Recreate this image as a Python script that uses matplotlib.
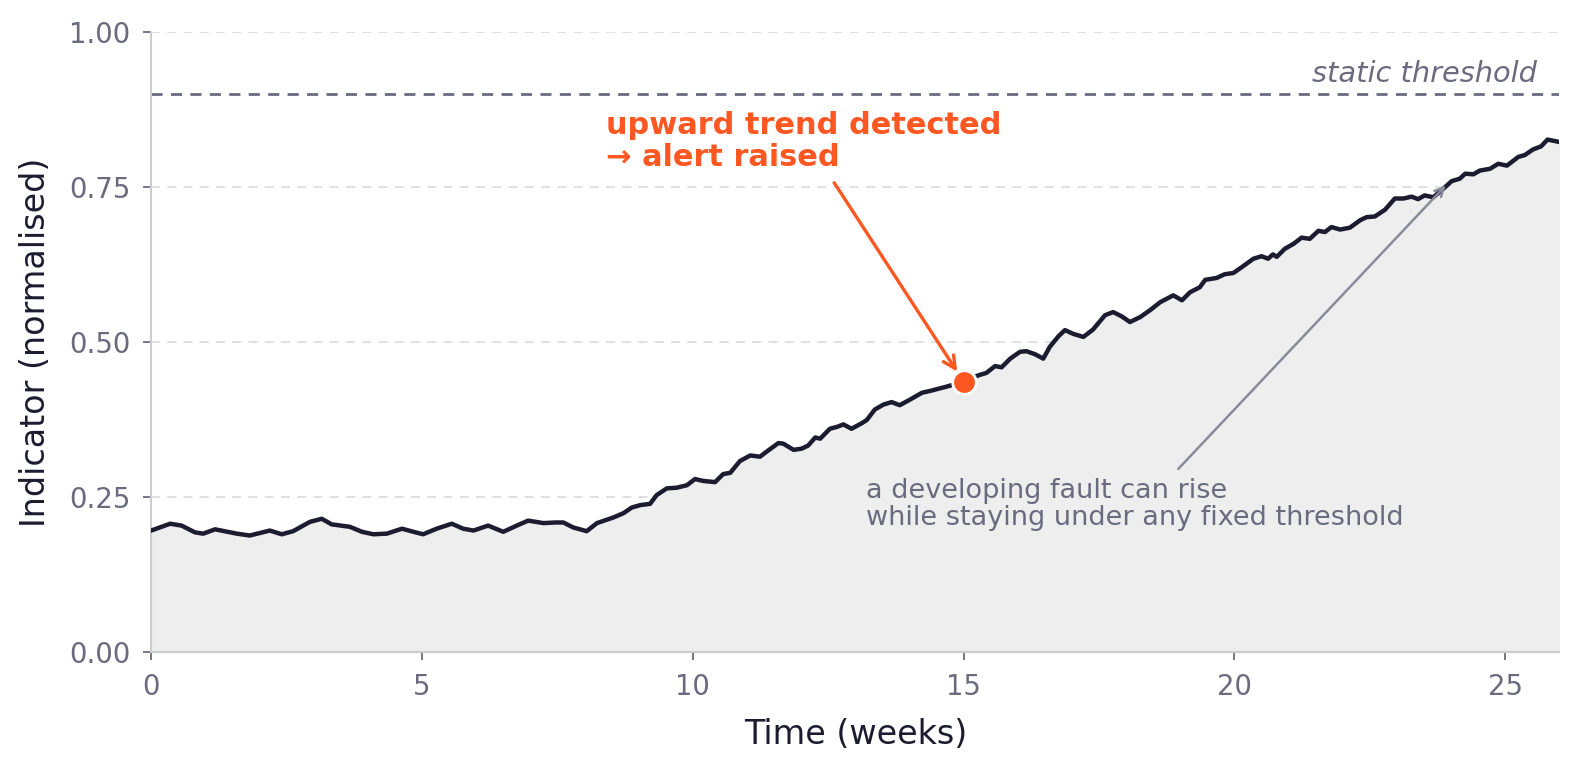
import numpy as np
import matplotlib
matplotlib.use("Agg")
import matplotlib.pyplot as plt

# values (weeks, normalised indicator)
weeks = [0.0, 0.35, 0.56, 0.81, 0.96, 1.18, 1.58, 1.82, 2.19, 2.41, 2.62, 2.93, 3.15, 3.33,
         3.67, 3.89, 4.10, 4.35, 4.63, 4.84, 5.02, 5.27, 5.55, 5.76, 5.95, 6.22, 6.50, 6.75,
         6.96, 7.24, 7.46, 7.61, 7.79, 8.04, 8.23, 8.53, 8.72, 8.87, 9.03, 9.21, 9.33, 9.52,
         9.70, 9.89, 10.04, 10.19, 10.41, 10.56, 10.69, 10.87, 11.06, 11.24, 11.36, 11.58,
         11.67, 11.86, 12.01, 12.13, 12.26, 12.35, 12.53, 12.66, 12.78, 12.93, 13.12, 13.21,
         13.36, 13.52, 13.67, 13.82, 14.01, 14.23, 14.38, 14.56, 14.69, 15.0, 15.27, 15.42,
         15.58, 15.70, 15.86, 16.04, 16.16, 16.32, 16.47, 16.59, 16.75, 16.87, 17.02, 17.21,
         17.39, 17.61, 17.76, 17.92, 18.07, 18.26, 18.44, 18.63, 18.87, 19.03, 19.18, 19.36,
         19.46, 19.67, 19.82, 19.98, 20.16, 20.35, 20.50, 20.62, 20.71, 20.78, 20.93, 21.09,
         21.24, 21.39, 21.55, 21.67, 21.79, 21.95, 22.13, 22.32, 22.44, 22.59, 22.78, 22.96,
         23.12, 23.27, 23.39, 23.51, 23.67, 23.82, 24.01, 24.16, 24.26, 24.41, 24.53, 24.72,
         24.87, 25.03, 25.24, 25.36, 25.51, 25.66, 25.78, 26.0]
indicator = [0.196, 0.207, 0.204, 0.193, 0.191, 0.198, 0.191, 0.188, 0.196, 0.190, 0.195,
             0.210, 0.215, 0.206, 0.202, 0.194, 0.190, 0.191, 0.199, 0.194, 0.190, 0.199,
             0.207, 0.199, 0.196, 0.204, 0.194, 0.204, 0.212, 0.208, 0.209, 0.209, 0.201,
             0.195, 0.208, 0.217, 0.224, 0.233, 0.237, 0.239, 0.253, 0.264, 0.265, 0.269,
             0.279, 0.276, 0.274, 0.287, 0.289, 0.308, 0.317, 0.315, 0.323, 0.337, 0.336,
             0.326, 0.328, 0.333, 0.346, 0.344, 0.360, 0.363, 0.367, 0.360, 0.369, 0.374,
             0.391, 0.399, 0.403, 0.398, 0.407, 0.418, 0.421, 0.425, 0.428, 0.436, 0.446,
             0.450, 0.461, 0.459, 0.473, 0.484, 0.485, 0.480, 0.473, 0.492, 0.509, 0.519,
             0.513, 0.508, 0.520, 0.543, 0.548, 0.541, 0.532, 0.540, 0.551, 0.564, 0.575,
             0.567, 0.580, 0.588, 0.600, 0.603, 0.609, 0.611, 0.622, 0.634, 0.638, 0.634,
             0.641, 0.637, 0.650, 0.658, 0.668, 0.666, 0.679, 0.677, 0.685, 0.681, 0.684,
             0.696, 0.701, 0.702, 0.713, 0.731, 0.731, 0.734, 0.730, 0.736, 0.733, 0.744,
             0.759, 0.763, 0.771, 0.770, 0.776, 0.779, 0.787, 0.784, 0.798, 0.801, 0.810,
             0.815, 0.826, 0.822]

threshold = 0.9
alert_week = 15.0
alert_value = 0.436

ink = "#1c1c30"
muted = "#6b6b80"
orange = "#ff5722"

fig = plt.figure(figsize=(15.8, 7.7), dpi=100)
ax = fig.add_axes([0.0957, 0.153, 0.8913, 0.806])

ax.fill_between(weeks, indicator, 0, color="#eeeeee", zorder=1)
ax.plot(weeks, indicator, color=ink, linewidth=3.2, zorder=3)
ax.axhline(threshold, color=muted, linestyle="--", linewidth=2, dashes=(4, 3), zorder=2)
ax.plot(alert_week, alert_value, "o", color=orange, markersize=17,
        markeredgecolor="white", markeredgewidth=2, zorder=5)

ax.text(25.58, 0.932, "static threshold", ha="right", va="center", fontsize=20.8,
        style="italic", color=muted)

ax.annotate("upward trend detected\n→ alert raised", xy=(14.88, 0.452), xytext=(8.39, 0.823),
            ha="left", va="center", fontsize=21.9, fontweight="bold", color=orange,
            linespacing=1.12,
            arrowprops=dict(arrowstyle="->", color=orange, lw=2.4, mutation_scale=22,
                            shrinkA=7, shrinkB=0, relpos=(0.56, 0.0)))

ax.annotate("a developing fault can rise\nwhile staying under any fixed threshold",
            xy=(23.9, 0.752), xytext=(13.2, 0.238), ha="left", va="center",
            fontsize=19.5, color=muted, linespacing=1.07,
            arrowprops=dict(arrowstyle="->", color="#8a8a9a", lw=1.8, mutation_scale=16,
                            shrinkA=6, shrinkB=0, relpos=(0.565, 1.0)))

ax.set_xlim(0, 26)
ax.set_ylim(0, 1.0)
ax.set_yticks([0, 0.25, 0.5, 0.75, 1.0])
ax.set_yticklabels(["0.00", "0.25", "0.50", "0.75", "1.00"])
ax.set_xticks([0, 5, 10, 15, 20, 25])
ax.grid(axis="y", color="#dddddd", linestyle="--", linewidth=1.3, dashes=(5, 4))
ax.set_axisbelow(True)

for s in ["top", "right"]:
    ax.spines[s].set_visible(False)
for s in ["left", "bottom"]:
    ax.spines[s].set_color("#cccccc")
    ax.spines[s].set_linewidth(1.5)
ax.tick_params(colors=muted, labelsize=19.8, length=6, width=1.3, pad=9)

ax.set_xlabel("Time (weeks)", fontsize=24, color=ink, labelpad=12)
ax.set_ylabel("Indicator (normalised)", fontsize=24, color=ink, labelpad=12)

fig.savefig("out.png", dpi=100)
